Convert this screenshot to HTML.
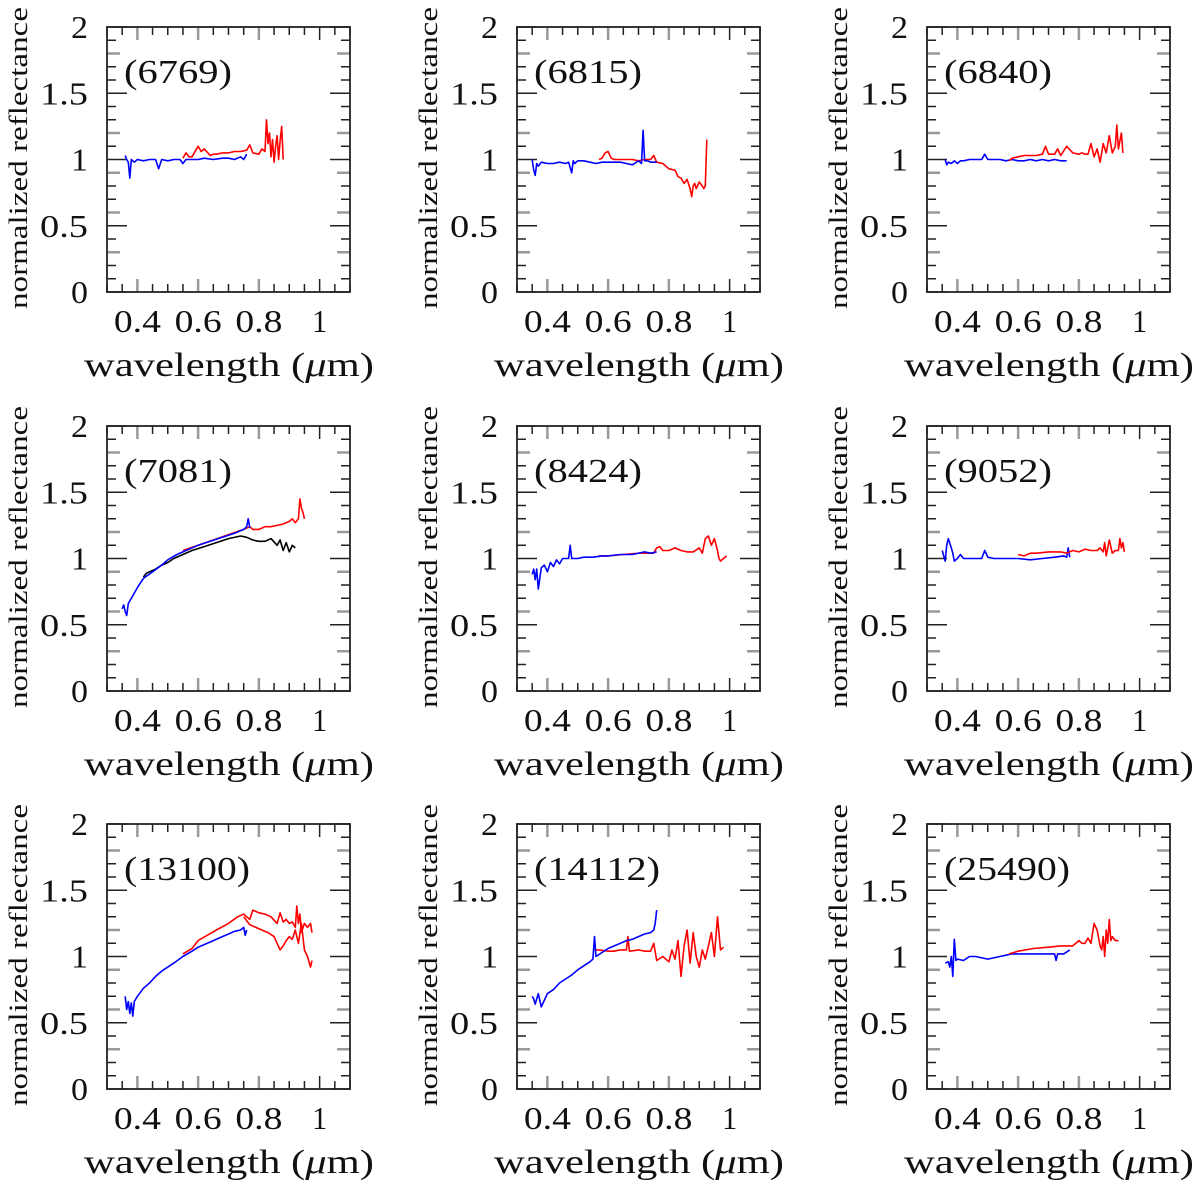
<!DOCTYPE html>
<html><head><meta charset="utf-8"><style>
html,body{margin:0;padding:0;background:#fff}
svg{display:block}
text{font-family:"Liberation Serif","DejaVu Serif",serif;fill:#111}
</style></head><body>
<svg id="fig" width="1200" height="1190" viewBox="0 0 1200 1190" xmlns="http://www.w3.org/2000/svg"></svg>
<script>
// ---- data (wavelength in µm, normalized reflectance) ----
const panelNames = ["(6769)","(6815)","(6840)","(7081)","(8424)","(9052)","(13100)","(14112)","(25490)"];
const xTicks = [0.4,0.6,0.8,1];
const xTickLabels = ["0.4","0.6","0.8","1"];
const yTicks = [0,0.5,1,1.5,2];
const yTickLabels = ["0","0.5","1","1.5","2"];

const b6769w = [0.36,0.365,0.37,0.375,0.38,0.39,0.40,0.42,0.44,0.46,0.47,0.48,0.50,0.52,0.54,0.55,0.56,0.58,0.60,0.62,0.65,0.68,0.70,0.72,0.74,0.75,0.76];
const b6769r = [1.03,1.0,0.98,0.86,1.0,0.98,1.0,0.99,1.0,1.0,0.93,1.0,0.99,1.0,1.0,0.97,1.0,1.0,1.0,1.01,1.0,1.01,1.01,1.0,1.02,1.0,1.04];
const r6769w = [0.55,0.56,0.57,0.58,0.60,0.61,0.62,0.64,0.65,0.66,0.68,0.70,0.72,0.74,0.76,0.77,0.78,0.80,0.81,0.82,0.825,0.83,0.835,0.84,0.845,0.85,0.855,0.86,0.865,0.87,0.875,0.88];
const r6769r = [1.01,1.05,1.02,1.02,1.1,1.06,1.08,1.03,1.04,1.04,1.05,1.05,1.06,1.06,1.07,1.11,1.05,1.04,1.08,1.06,1.3,1.12,1.2,1.02,1.15,0.98,1.1,1.18,1.0,1.14,1.25,1.0];

const b6815w = [0.35,0.355,0.36,0.365,0.37,0.38,0.40,0.42,0.44,0.46,0.47,0.48,0.485,0.49,0.50,0.52,0.54,0.56,0.58,0.60,0.62,0.64,0.66,0.68,0.70,0.71,0.715,0.72,0.73,0.74,0.76];
const b6815r = [1.0,0.92,0.88,0.97,0.95,0.98,0.97,0.97,0.98,0.97,0.98,0.9,0.99,0.97,0.99,0.99,0.98,0.97,0.98,0.98,0.98,0.98,0.97,0.96,0.99,0.97,1.22,0.99,0.99,0.98,0.98];
const r6815w = [0.57,0.58,0.59,0.60,0.61,0.62,0.64,0.66,0.68,0.70,0.72,0.74,0.75,0.76,0.78,0.80,0.82,0.83,0.84,0.85,0.86,0.87,0.875,0.88,0.885,0.89,0.90,0.91,0.915,0.92,0.925];
const r6815r = [1.0,1.01,1.05,1.06,1.01,1.0,1.0,1.0,1.0,0.99,1.0,1.0,1.03,0.98,0.97,0.93,0.92,0.87,0.86,0.82,0.85,0.78,0.72,0.8,0.82,0.78,0.83,0.8,0.78,0.8,1.15];

const b6840w = [0.36,0.365,0.37,0.38,0.39,0.40,0.41,0.42,0.44,0.46,0.48,0.49,0.50,0.52,0.54,0.56,0.58,0.60,0.62,0.64,0.66,0.68,0.70,0.72,0.74,0.76];
const b6840r = [1.0,0.96,0.98,0.97,0.99,0.97,0.99,0.99,1.0,1.0,1.0,1.04,1.0,1.0,1.0,0.99,1.0,0.99,0.99,1.0,0.99,1.0,0.99,1.0,0.99,0.99];
const r6840w = [0.57,0.58,0.60,0.62,0.64,0.66,0.68,0.69,0.70,0.72,0.73,0.74,0.76,0.78,0.80,0.81,0.82,0.83,0.84,0.85,0.86,0.87,0.88,0.89,0.90,0.91,0.92,0.925,0.93,0.94,0.945];
const r6840r = [0.99,1.01,1.02,1.03,1.03,1.03,1.04,1.1,1.04,1.04,1.08,1.03,1.1,1.05,1.04,1.05,1.04,1.04,1.12,1.02,1.08,0.98,1.12,1.05,1.18,1.05,1.1,1.26,1.08,1.2,1.05];

const b7081w = [0.35,0.355,0.36,0.365,0.37,0.38,0.40,0.42,0.45,0.48,0.50,0.53,0.56,0.60,0.64,0.68,0.72,0.75,0.76,0.765,0.77];
const b7081r = [0.62,0.65,0.6,0.57,0.66,0.7,0.78,0.85,0.9,0.95,0.99,1.03,1.06,1.1,1.13,1.16,1.19,1.22,1.24,1.3,1.23];
const r7081w = [0.55,0.60,0.65,0.70,0.75,0.77,0.78,0.80,0.82,0.84,0.86,0.88,0.90,0.91,0.92,0.93,0.935,0.94,0.945,0.95];
const r7081r = [1.06,1.1,1.14,1.18,1.22,1.24,1.22,1.22,1.24,1.24,1.25,1.26,1.28,1.3,1.27,1.3,1.45,1.38,1.35,1.3];
const k7081w = [0.42,0.43,0.44,0.46,0.48,0.50,0.52,0.55,0.58,0.62,0.66,0.70,0.74,0.76,0.78,0.80,0.82,0.84,0.86,0.87,0.88,0.89,0.90,0.91,0.92];
const k7081r = [0.86,0.89,0.9,0.92,0.95,0.97,1.0,1.03,1.06,1.09,1.12,1.15,1.17,1.16,1.14,1.13,1.13,1.15,1.1,1.14,1.06,1.12,1.05,1.1,1.08];

const b8424w = [0.35,0.355,0.36,0.365,0.37,0.38,0.39,0.40,0.41,0.42,0.43,0.44,0.45,0.46,0.47,0.475,0.48,0.50,0.52,0.55,0.58,0.60,0.64,0.68,0.72,0.74,0.76];
const b8424r = [0.88,0.92,0.84,0.92,0.77,0.93,0.95,0.9,0.97,0.94,0.99,0.96,1.0,1.0,1.0,1.1,1.0,1.0,1.01,1.01,1.02,1.02,1.03,1.03,1.05,1.04,1.05];
const r8424w = [0.57,0.60,0.65,0.70,0.75,0.76,0.77,0.78,0.80,0.82,0.84,0.86,0.88,0.90,0.91,0.92,0.93,0.94,0.95,0.96,0.965,0.97,0.98,0.99];
const r8424r = [1.02,1.02,1.03,1.04,1.04,1.08,1.09,1.06,1.06,1.08,1.06,1.05,1.05,1.08,1.04,1.15,1.17,1.1,1.15,1.06,1.0,0.98,1.0,1.02];

const b9052w = [0.35,0.36,0.365,0.37,0.38,0.385,0.39,0.40,0.41,0.42,0.44,0.46,0.48,0.49,0.50,0.52,0.55,0.58,0.60,0.64,0.68,0.72,0.75,0.76,0.765,0.77];
const b9052r = [1.06,0.98,1.1,1.15,1.08,1.04,0.98,1.0,1.03,1.0,1.0,1.0,1.0,1.06,1.01,1.0,1.0,1.0,1.0,0.99,1.0,1.01,1.02,1.01,1.08,1.01];
const r9052w = [0.60,0.62,0.64,0.66,0.70,0.74,0.76,0.78,0.80,0.82,0.84,0.86,0.87,0.88,0.885,0.89,0.90,0.91,0.92,0.93,0.935,0.94,0.945,0.95];
const r9052r = [1.03,1.02,1.04,1.04,1.05,1.05,1.04,1.06,1.05,1.07,1.06,1.06,1.08,1.05,1.12,1.02,1.14,1.04,1.06,1.06,1.15,1.08,1.12,1.05];

const b13100w = [0.36,0.365,0.37,0.375,0.38,0.385,0.39,0.40,0.42,0.44,0.46,0.48,0.50,0.52,0.55,0.58,0.60,0.62,0.65,0.68,0.70,0.72,0.74,0.75,0.755,0.76];
const b13100r = [0.7,0.6,0.66,0.57,0.65,0.55,0.66,0.7,0.76,0.8,0.85,0.89,0.92,0.95,1.0,1.04,1.07,1.09,1.12,1.15,1.17,1.19,1.2,1.22,1.16,1.2];
const r13100w = [0.55,0.58,0.60,0.63,0.66,0.70,0.73,0.75,0.76,0.77,0.78,0.80,0.82,0.84,0.86,0.87,0.88,0.89,0.90,0.91,0.92,0.925,0.93,0.935,0.94,0.95,0.96,0.97,0.975];
const r13100r = [1.02,1.06,1.12,1.16,1.2,1.25,1.3,1.32,1.3,1.28,1.35,1.33,1.32,1.3,1.25,1.33,1.26,1.28,1.25,1.26,1.22,1.38,1.25,1.32,1.18,1.25,1.22,1.25,1.18];
const r13100bw = [0.75,0.77,0.79,0.81,0.83,0.85,0.86,0.87,0.88,0.89,0.90,0.91,0.92,0.93,0.94,0.95,0.96,0.97,0.975];
const r13100br = [1.3,1.24,1.22,1.2,1.18,1.15,1.1,1.05,1.08,1.12,1.15,1.13,1.2,1.1,1.25,1.05,1.0,0.92,0.97];

const b14112w = [0.35,0.355,0.36,0.37,0.38,0.40,0.42,0.44,0.46,0.48,0.50,0.52,0.54,0.55,0.555,0.56,0.58,0.60,0.62,0.64,0.66,0.68,0.70,0.72,0.74,0.75,0.755,0.76];
const b14112r = [0.7,0.68,0.64,0.72,0.62,0.72,0.75,0.8,0.83,0.86,0.9,0.93,0.96,0.98,1.15,1.0,1.03,1.06,1.08,1.1,1.12,1.13,1.15,1.17,1.18,1.2,1.25,1.35];
const r14112w = [0.55,0.57,0.60,0.62,0.64,0.66,0.665,0.67,0.70,0.72,0.74,0.75,0.76,0.78,0.80,0.81,0.82,0.83,0.84,0.85,0.86,0.87,0.88,0.89,0.90,0.91,0.92,0.93,0.94,0.95,0.96,0.97,0.98];
const r14112r = [1.05,1.05,1.04,1.04,1.05,1.05,1.15,1.04,1.05,1.04,1.04,1.1,0.97,1.0,0.96,1.05,0.98,1.12,0.85,1.08,1.2,0.95,1.18,1.0,0.92,1.05,0.98,1.08,1.18,1.0,1.3,1.05,1.07];

const b25490w = [0.36,0.37,0.375,0.38,0.385,0.39,0.395,0.40,0.42,0.44,0.46,0.50,0.54,0.56,0.58,0.60,0.65,0.70,0.72,0.725,0.73,0.75,0.77];
const b25490r = [0.95,0.96,0.92,1.0,0.85,1.13,0.97,0.98,0.97,1.0,1.0,0.98,1.0,1.01,1.02,1.02,1.02,1.02,1.02,0.97,1.02,1.02,1.05];
const r25490w = [0.57,0.60,0.65,0.70,0.74,0.76,0.78,0.80,0.81,0.82,0.83,0.84,0.85,0.86,0.87,0.875,0.88,0.885,0.89,0.895,0.90,0.905,0.91,0.92,0.93];
const r25490r = [1.02,1.04,1.06,1.07,1.08,1.08,1.08,1.12,1.1,1.1,1.14,1.1,1.25,1.2,1.08,1.05,1.15,1.0,1.2,1.1,1.28,1.12,1.15,1.12,1.12];

const panelSeries = [
  [[b6769w,b6769r,"#0000ff"],[r6769w,r6769r,"#ff0000"]],
  [[r6815w,r6815r,"#ff0000"],[b6815w,b6815r,"#0000ff"]],
  [[b6840w,b6840r,"#0000ff"],[r6840w,r6840r,"#ff0000"]],
  [[r7081w,r7081r,"#ff0000"],[k7081w,k7081r,"#000000"],[b7081w,b7081r,"#0000ff"]],
  [[r8424w,r8424r,"#ff0000"],[b8424w,b8424r,"#0000ff"]],
  [[b9052w,b9052r,"#0000ff"],[r9052w,r9052r,"#ff0000"]],
  [[r13100w,r13100r,"#ff0000"],[r13100bw,r13100br,"#ff0000"],[b13100w,b13100r,"#0000ff"]],
  [[r14112w,r14112r,"#ff0000"],[b14112w,b14112r,"#0000ff"]],
  [[b25490w,b25490r,"#0000ff"],[r25490w,r25490r,"#ff0000"]]
];

// ---- drawing ----
const NS = "http://www.w3.org/2000/svg";
const svg = document.getElementById("fig");
const colOff = [0,410,820];
const rowOff = [0,399,797];
const L = 107, R = 350, T = 27, B = 292;
const X0 = 0.3, X1 = 1.1, Y0 = 0, Y1 = 2;

function mk(tag, attrs, parent){
  const e = document.createElementNS(NS, tag);
  for (const k in attrs) e.setAttribute(k, attrs[k]);
  parent.appendChild(e);
  return e;
}

panelNames.forEach((name, i) => {
  const ox = colOff[i % 3], oy = rowOff[Math.floor(i / 3)];
  const sx = v => ox + L + (v - X0) / (X1 - X0) * (R - L);
  const sy = v => oy + B - (v - Y0) / (Y1 - Y0) * (B - T);
  const g = mk("g", {}, svg);
  
  

  const tg = mk("g", {}, g);
  
  
  for (let k = 0; k <= 16; k++) {
    const v = X0 + k * 0.05;
    const major = xTicks.some(t => Math.abs(t - v) < 1e-6);
    const len = major ? 13 : 8;
    const col = major && v < 0.9 ? "#999" : "#222";
    const w = major && v < 0.9 ? 2.5 : 1.5;
    mk("line", {x1: sx(v), x2: sx(v), y1: oy + B, y2: oy + B - len, stroke: col, "stroke-width": w}, tg);
    mk("line", {x1: sx(v), x2: sx(v), y1: oy + T, y2: oy + T + len, stroke: col, "stroke-width": w}, tg);
  }
  for (let k = 0; k <= 20; k++) {
    const v = k * 0.1;
    const major = yTicks.some(t => Math.abs(t - v) < 1e-6);
    const grey = (k % 3 === 0) && !major;
    const len = major ? 20 : (grey ? 13 : 9);
    const col = grey ? "#999" : "#222";
    const w = grey ? 2.5 : 1.5;
    mk("line", {x1: ox + L, x2: ox + L + len, y1: sy(v), y2: sy(v), stroke: col, "stroke-width": w}, tg);
    mk("line", {x1: ox + R, x2: ox + R - len, y1: sy(v), y2: sy(v), stroke: col, "stroke-width": w}, tg);
  }
  const frame = mk("rect", {x: ox + L, y: oy + T, width: R - L, height: B - T, fill: "none", stroke: "#222", "stroke-width": 1.8}, g);
  
  

  xTicks.forEach((t, j) => {
    const lab = xTickLabels[j];
    const tx = mk("text", {x: sx(t), y: oy + 332, "text-anchor": "middle", "font-size": 32, textLength: lab.length === 1 ? 15 : 47, lengthAdjust: "spacingAndGlyphs"}, g);
    
    
    tx.textContent = lab;
  });
  yTicks.forEach((t, j) => {
    const lab = yTickLabels[j];
    const tx = mk("text", {x: ox + 88, y: sy(t) + 11, "text-anchor": "end", "font-size": 32, textLength: lab.length === 1 ? 17 : 48, lengthAdjust: "spacingAndGlyphs"}, g);
    
    
    tx.textContent = lab;
  });

  const xt = mk("text", {x: ox + 84, y: oy + 376, "font-size": 34, textLength: 290, lengthAdjust: "spacingAndGlyphs"}, g);
  
  
  xt.innerHTML = 'wavelength (<tspan font-style="italic">μ</tspan>m)';
  const yt = mk("text", {x: 0, y: 0, "font-size": 26, textLength: 302, lengthAdjust: "spacingAndGlyphs", "text-anchor": "middle",
    transform: `translate(${ox + 27},${oy + 158}) rotate(-90)`}, g);
  
  
  yt.textContent = "normalized reflectance";

  const pl = mk("text", {x: ox + 124, y: oy + 83, "font-size": 34, textLength: name.length * 18, lengthAdjust: "spacingAndGlyphs"}, g);
  
  
  pl.textContent = name;

  panelSeries[i].forEach(([ws, rs, color]) => {
    const pts = ws.map((w, k) => sx(w).toFixed(1) + "," + sy(rs[k]).toFixed(1)).join(" ");
    const line = mk("polyline", {points: pts, fill: "none", stroke: color, "stroke-width": 1.6, "stroke-linejoin": "round"}, g);
    
    
  });
});
</script>
</body></html>
